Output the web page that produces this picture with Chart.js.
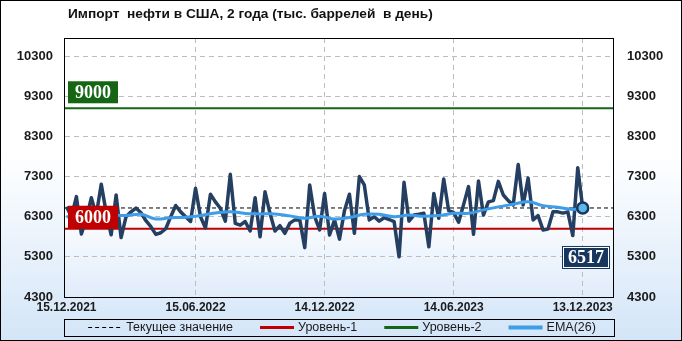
<!DOCTYPE html>
<html>
<head>
<meta charset="utf-8">
<script src="https://cdn.jsdelivr.net/npm/chart.js@4.4.0/dist/chart.umd.min.js"></script>
<style>
  html, body { margin: 0; padding: 0; background: #fff; }
</style>
</head>
<body>
<canvas id="myChart" width="682" height="341"></canvas>
<script>
  // Weekly US oil imports, thousand barrels per day
  const title = 'Импорт  нефти в США, 2 года (тыс. баррелей  в день)';
  const imports = [
    6550, 6300, 6800, 5870, 6250, 6770, 6340, 7110, 6400, 5850,
    6840, 5780, 6300, 6420, 6515, 6400, 6200, 6050, 5860, 5900,
    6000, 6300, 6580, 6420, 6300, 6180, 7010, 6300, 6020, 6860,
    6670, 6510, 6190, 7355, 6135, 6090, 6180, 5945, 6770, 5800,
    6920, 6385, 5945, 6075, 5885, 6140, 6220, 6220, 5530, 7090,
    6300, 5970, 6880, 5845, 6220, 5740, 6450, 6860, 5885, 7300,
    7090, 6220, 6300, 6190, 6275, 6230, 6180, 5300, 7155, 6190,
    6340, 6360, 6385, 5550, 6880, 6260, 7240, 6450, 6400, 6160,
    6600, 7050, 5860, 7190, 6340, 6670, 6700, 7180, 6840, 6700,
    6590, 7600, 6590, 7260, 6220, 6325, 5970, 5990, 6420, 6420,
    6390, 6420, 5830, 7520, 6517
  ];
  // EMA(26) read at a few weeks along the line
  const emaWeeks = [0, 3, 6, 9, 12, 15, 18, 21, 24, 27, 30, 33, 36, 39, 42, 45, 48, 51,
    54, 57, 60, 63, 66, 69, 72, 75, 78, 81, 84, 87, 90, 93, 96, 99, 102, 104];
  const emaValues = [6300, 6310, 6330, 6340, 6330, 6360, 6245, 6275, 6285, 6330, 6390, 6425,
    6380, 6370, 6370, 6320, 6260, 6310, 6240, 6280, 6360, 6360, 6300, 6340, 6310, 6330,
    6385, 6385, 6470, 6545, 6610, 6670, 6575, 6535, 6480, 6525];
  const xTickWeeks = [0, 26, 52, 78, 104];
  const xTickLabels = ['15.12.2021', '15.06.2022', '14.12.2022', '14.06.2023', '13.12.2023'];
  const yTicks = [4300, 5300, 6300, 7300, 8300, 9300, 10300];
  const level1 = 6000;
  const level2 = 9000;

  const X_MIN = -0.3, X_MAX = 110.1;
  const Y_MIN = 4300, Y_MAX = 10750;

  const last = imports.length - 1;
  const current = imports[last];

  const NAVY = '#243f61';
  const RED = '#c00000';
  const GREEN = '#146614';
  const BLUE = '#3d9de9';

  const legendItems = [
    { text: 'Текущее значение', color: '#000', width: 1, dash: [4, 3] },
    { text: 'Уровень-1', color: RED, width: 3, dash: [] },
    { text: 'Уровень-2', color: GREEN, width: 3, dash: [] },
    { text: 'EMA(26)', color: BLUE, width: 4, dash: [] }
  ];

  function tag(ctx, text, x, y, w, h, fill, ring) {
    ctx.save();
    ctx.fillStyle = fill;
    ctx.fillRect(x, y, w, h);
    if (ring) {
      ctx.strokeStyle = '#fff';
      ctx.lineWidth = 1;
      ctx.strokeRect(x + 1.5, y + 1.5, w - 3, h - 3);
    }
    ctx.fillStyle = '#fff';
    ctx.font = 'bold 18px "Liberation Serif"';
    ctx.textAlign = 'center';
    ctx.textBaseline = 'middle';
    ctx.fillText(text, x + w / 2, y + h / 2 + 1);
    ctx.restore();
  }

  const decor = {
    id: 'decor',
    beforeDraw(chart) {
      const { ctx, chartArea: a, width, height } = chart;
      ctx.save();
      let g = ctx.createLinearGradient(0, 0, 0, height);
      g.addColorStop(0, '#ffffff');
      g.addColorStop(0.45, '#ffffff');
      g.addColorStop(1, '#d3e5f8');
      ctx.fillStyle = g;
      ctx.fillRect(0, 0, width, height);
      g = ctx.createLinearGradient(0, a.top, 0, a.bottom);
      g.addColorStop(0, '#ffffff');
      g.addColorStop(0.65, '#ffffff');
      g.addColorStop(1, '#e0ecfa');
      ctx.fillStyle = g;
      ctx.fillRect(a.left, a.top, a.right - a.left, a.bottom - a.top);
      ctx.restore();
    },
    afterDraw(chart) {
      const { ctx, chartArea: a, width, height } = chart;
      const y = chart.scales.y;
      ctx.save();
      // plot frame
      ctx.strokeStyle = '#000';
      ctx.lineWidth = 1;
      ctx.strokeRect(a.left - 0.5, a.top + 0.5, a.right - a.left + 1, a.bottom - a.top);
      // outer frame
      ctx.strokeRect(0.5, 0.5, width - 1, height - 1);

      // title
      ctx.fillStyle = '#111';
      ctx.font = 'bold 13.7px "Liberation Sans"';
      ctx.textBaseline = 'middle';
      ctx.fillText(title, 68, 14);

      // level tags
      tag(ctx, String(level2), a.left + 3, y.getPixelForValue(level2) - 27, 50, 22, GREEN, false);
      tag(ctx, String(level1), a.left + 3, y.getPixelForValue(level1) - 23, 50, 23, RED, false);
      tag(ctx, String(current), a.right - 51, y.getPixelForValue(current) + 38, 48, 23, '#17365d', true);

      // legend
      ctx.font = '12.5px "Liberation Sans"';
      const sample = 34, gapIn = 4, gapOut = 27;
      let total = 0;
      legendItems.forEach((it, i) => {
        total += sample + gapIn + ctx.measureText(it.text).width + (i < legendItems.length - 1 ? gapOut : 0);
      });
      const ly = 327.5;
      ctx.strokeStyle = '#000';
      ctx.lineWidth = 1;
      ctx.setLineDash([]);
      ctx.strokeRect(a.left - 0.5, 319.5, a.right - a.left + 2, 17);
      let lx = width / 2 - total / 2 + 1;
      legendItems.forEach((it) => {
        ctx.beginPath();
        ctx.strokeStyle = it.color;
        ctx.lineWidth = it.width;
        ctx.setLineDash(it.dash);
        ctx.moveTo(lx, ly);
        ctx.lineTo(lx + sample, ly);
        ctx.stroke();
        ctx.setLineDash([]);
        lx += sample + gapIn;
        ctx.fillStyle = '#1a1a1a';
        ctx.fillText(it.text, lx, ly);
        lx += ctx.measureText(it.text).width + gapOut;
      });
      ctx.restore();
    }
  };

  const flat = (v) => [{ x: X_MIN, y: v }, { x: X_MAX, y: v }];

  let myChart = document.getElementById('myChart').getContext('2d');

  let importChart = new Chart(myChart, {
    type: 'line',
    data: {
      datasets: [
        {
          label: 'last',
          data: [{ x: last, y: current }],
          showLine: false,
          pointRadius: 5.5,
          pointBackgroundColor: '#5cb8ea',
          pointBorderColor: '#17365d',
          pointBorderWidth: 2.5,
          order: 0
        },
        {
          label: 'EMA(26)',
          data: emaWeeks.map((w, i) => ({ x: w, y: emaValues[i] })),
          borderColor: BLUE,
          borderWidth: 3,
          tension: 0.4,
          pointRadius: 0,
          order: 1
        },
        {
          label: 'Импорт',
          data: imports.map((v, i) => ({ x: i, y: v })),
          borderColor: NAVY,
          borderWidth: 3.5,
          pointRadius: 0,
          borderJoinStyle: 'round',
          order: 2
        },
        {
          label: 'Текущее значение',
          data: flat(current),
          borderColor: '#000',
          borderWidth: 1,
          borderDash: [4, 3],
          pointRadius: 0,
          order: 3
        },
        {
          label: 'Уровень-1',
          data: flat(level1),
          borderColor: RED,
          borderWidth: 2,
          pointRadius: 0,
          order: 4
        },
        {
          label: 'Уровень-2',
          data: flat(level2),
          borderColor: GREEN,
          borderWidth: 2,
          pointRadius: 0,
          order: 4
        }
      ]
    },
    options: {
      responsive: false,
      animation: false,
      layout: { padding: { top: 38, bottom: 24, left: 0, right: 0 } },
      plugins: {
        legend: { display: false },
        title: { display: false },
        tooltip: { enabled: false }
      },
      scales: {
        x: {
          type: 'linear',
          min: X_MIN,
          max: X_MAX,
          afterBuildTicks: (s) => { s.ticks = xTickWeeks.map((v) => ({ value: v })); },
          afterFit: (s) => { s.height = 20; },
          ticks: {
            autoSkip: false,
            maxRotation: 0,
            padding: 3,
            color: '#1a1a1a',
            font: { family: 'Liberation Sans', weight: 'bold', size: 12 },
            callback: (v) => xTickLabels[xTickWeeks.indexOf(v)]
          },
          grid: {
            drawTicks: false,
            color: (c) => (c.tick && c.tick.value === 0 ? 'rgba(0,0,0,0)' : '#bdbdbd')
          },
          border: { display: false, dash: [5, 4] }
        },
        y: {
          position: 'left',
          min: Y_MIN,
          max: Y_MAX,
          afterBuildTicks: (s) => { s.ticks = yTicks.map((v) => ({ value: v })); },
          afterFit: (s) => { s.width = 65; },
          ticks: {
            padding: 12,
            color: '#1a1a1a',
            font: { family: 'Liberation Sans', weight: 'bold', size: 13 },
            callback: (v) => String(v)
          },
          grid: { drawTicks: false, color: '#bdbdbd' },
          border: { display: false, dash: [5, 4] }
        },
        y2: {
          position: 'right',
          min: Y_MIN,
          max: Y_MAX,
          afterBuildTicks: (s) => { s.ticks = yTicks.map((v) => ({ value: v })); },
          afterFit: (s) => { s.width = 69; },
          ticks: {
            padding: 14,
            color: '#1a1a1a',
            font: { family: 'Liberation Sans', weight: 'bold', size: 13 },
            callback: (v) => String(v)
          },
          grid: { display: false, drawTicks: false },
          border: { display: false }
        }
      }
    },
    plugins: [decor]
  });
</script>
</body>
</html>
